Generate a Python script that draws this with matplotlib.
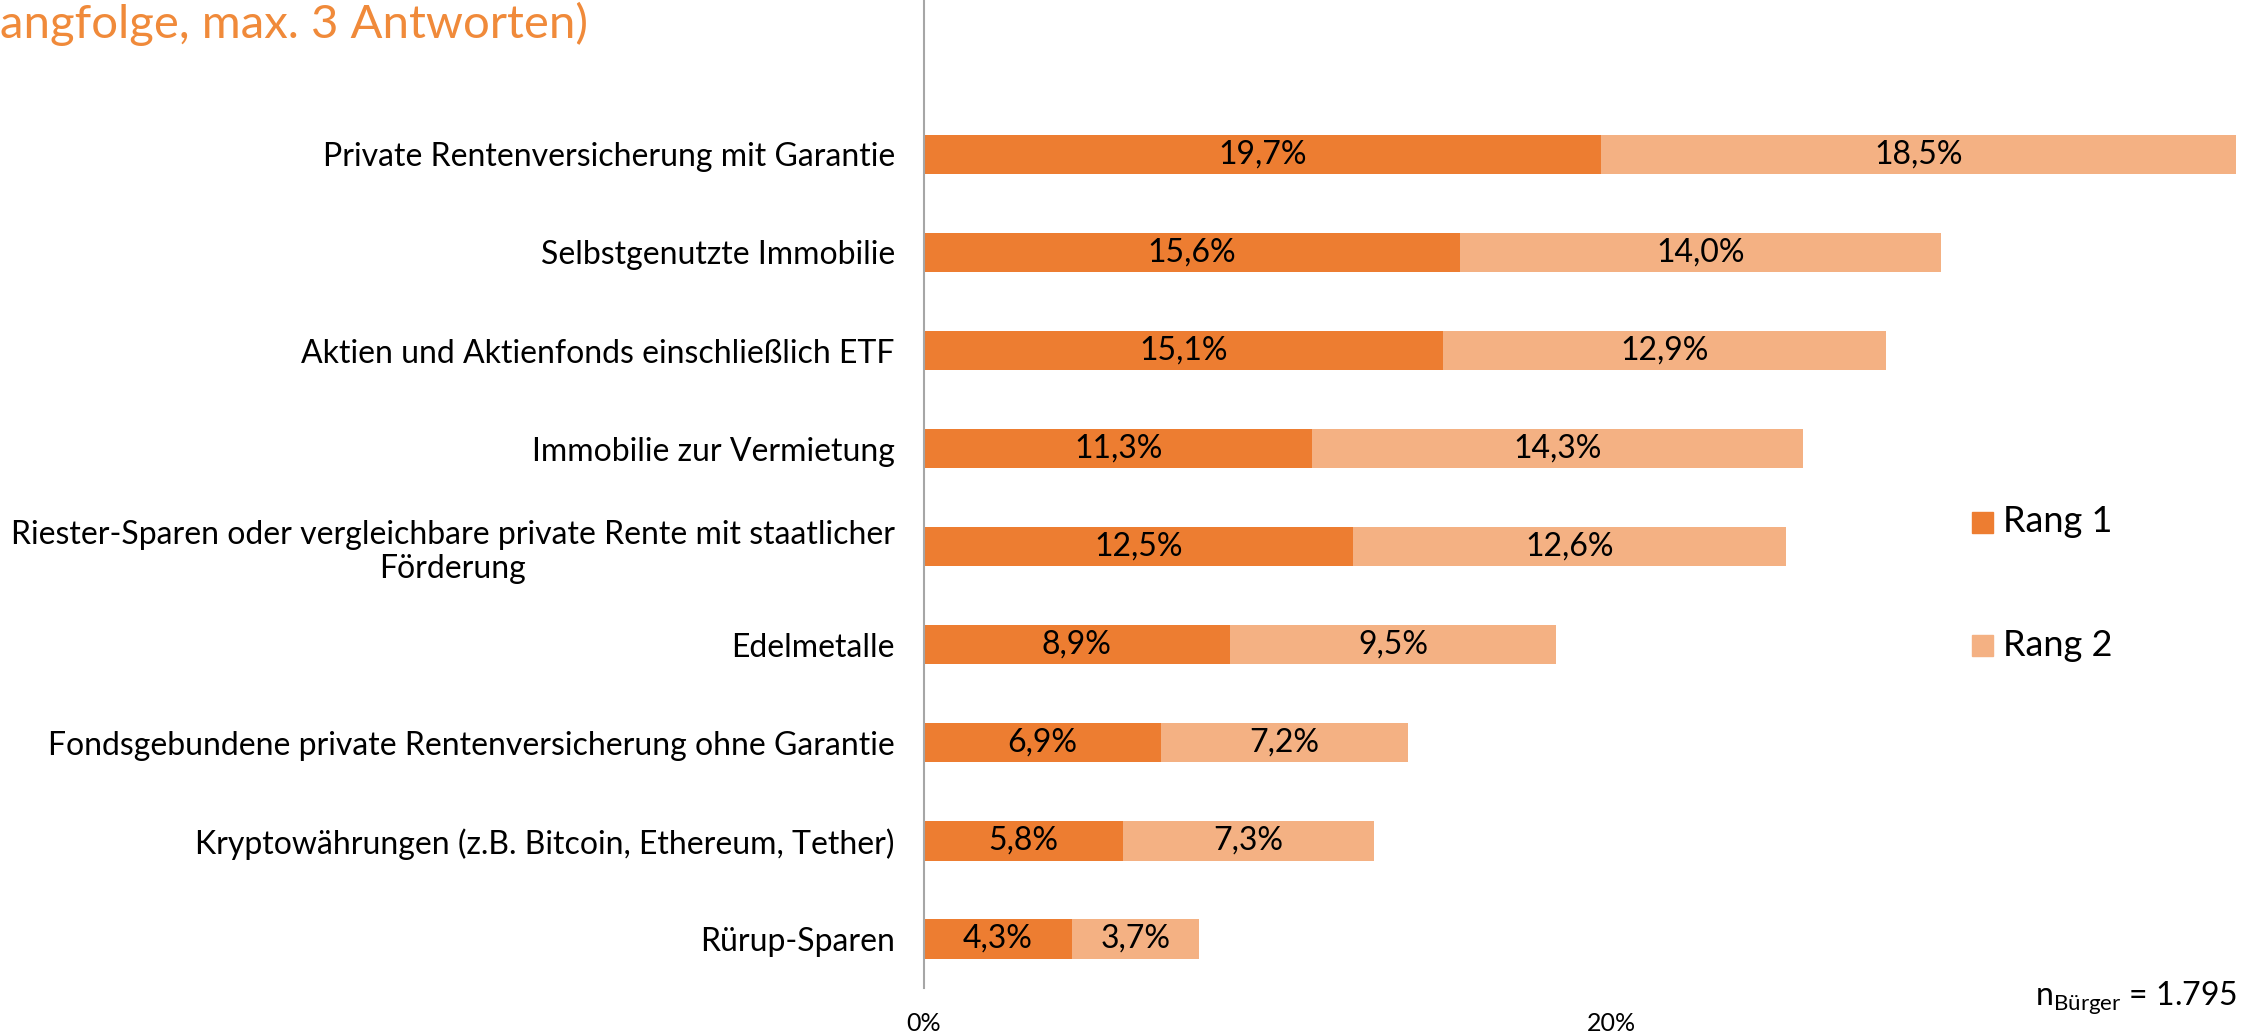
import matplotlib

matplotlib.use("Agg")
import matplotlib.pyplot as plt
from matplotlib.patches import Rectangle

plt.rcParams["font.family"] = ["Lato", "DejaVu Sans"]
plt.rcParams["mathtext.fontset"] = "custom"
plt.rcParams["mathtext.rm"] = "Lato"
plt.rcParams["mathtext.it"] = "Lato"

categories = [
    "Private Rentenversicherung mit Garantie",
    "Selbstgenutzte Immobilie",
    "Aktien und Aktienfonds einschließlich ETF",
    "Immobilie zur Vermietung",
    "Riester-Sparen oder vergleichbare private Rente mit staatlicher\nFörderung",
    "Edelmetalle",
    "Fondsgebundene private Rentenversicherung ohne Garantie",
    "Kryptowährungen (z.B. Bitcoin, Ethereum, Tether)",
    "Rürup-Sparen",
]
rang1 = [19.7, 15.6, 15.1, 11.3, 12.5, 8.9, 6.9, 5.8, 4.3]
rang2 = [18.5, 14.0, 12.9, 14.3, 12.6, 9.5, 7.2, 7.3, 3.7]
series_names = ["Rang 1", "Rang 2"]
xticks = [0, 20]

C1 = "#ED7D31"
C2 = "#F4B183"

W, H = 2246, 1034
fig = plt.figure(figsize=(W / 100, H / 100), dpi=100)
ax = fig.add_axes([924 / W, 1 - 988 / H, 1 - 924 / W, 988 / H])

y = list(range(len(categories)))
ax.barh(y, rang1, height=0.4, color=C1)
ax.barh(y, rang2, left=rang1, height=0.4, color=C2)

for i, (a, b) in enumerate(zip(rang1, rang2)):
    ax.text(a / 2, i, f"{a:.1f}%".replace(".", ","), ha="center", va="center", fontsize=23)
    ax.text(a + b / 2, i, f"{b:.1f}%".replace(".", ","), ha="center", va="center", fontsize=23)

ax.set_xlim(0, (W - 924) / 34.35)
ax.set_ylim(len(categories) - 0.5, len(categories) - 0.5 - 988 / 98.07)
ax.set_yticks(y)
ax.set_yticklabels(categories, fontsize=23)
for lbl in ax.get_yticklabels():
    lbl.set_multialignment("center")
ax.tick_params(axis="y", length=0, pad=21)
ax.set_xticks(xticks)
ax.set_xticklabels([f"{t}%" for t in xticks], fontsize=18)
ax.tick_params(axis="x", length=0, pad=17)
for s in ["top", "right", "bottom"]:
    ax.spines[s].set_visible(False)
ax.spines["left"].set_color("#A6A6A6")
ax.spines["left"].set_linewidth(1.5)

# legend drawn by hand to match spacing
for name, col, yc in zip(series_names, [C1, C2], [522, 645]):
    fig.patches.append(Rectangle((1972 / W, 1 - (yc + 11) / H), 21 / W, 21 / H,
                                 transform=fig.transFigure, color=col))
    fig.text(2003 / W, 1 - yc / H, name, fontsize=26, va="center", ha="left")

fig.text(0, 1 - 38 / H, "angfolge, max. 3 Antworten)", color="#F08A3A",
         fontsize=34, va="baseline", ha="left")
fig.text(2237 / W, 1 - 998 / H, r"n$_{\mathrm{Bürger}}$ = 1.795", fontsize=23,
         ha="right", va="center")

fig.savefig("out.png", dpi=100)
